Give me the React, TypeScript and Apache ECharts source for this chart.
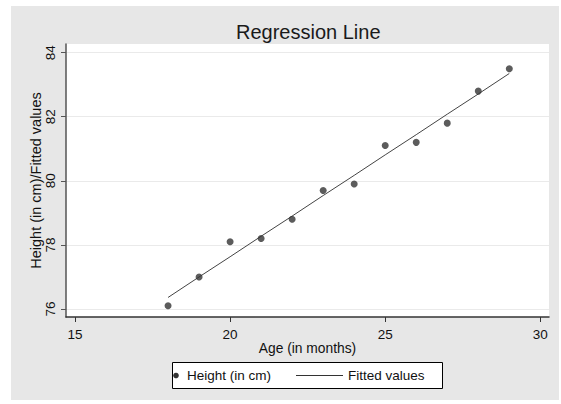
import React, { useEffect, useRef } from "react";
import * as echarts from "echarts";

const ages = [18, 19, 20, 21, 22, 23, 24, 25, 26, 27, 28, 29];
const heights = [76.1, 77.0, 78.1, 78.2, 78.8, 79.7, 79.9, 81.1, 81.2, 81.8, 82.8, 83.5];
const fitted = [76.36, 77.0, 77.63, 78.27, 78.9, 79.54, 80.17, 80.81, 81.44, 82.08, 82.71, 83.35];
const xTicks = [15, 20, 25, 30];
const yTicks = [76, 78, 80, 82, 84];

const FONT = "Liberation Sans, Arial, sans-serif";

export default function App() {
  const ref = useRef<HTMLDivElement>(null);
  useEffect(() => {
    document.body.style.margin = "0";
    const chart = echarts.init(ref.current!, null, { renderer: "svg" });
    chart.setOption({
      animation: false,
      backgroundColor: "#ffffff",
      title: {
        text: "Regression Line",
        left: 231,
        top: 17,
        textStyle: { fontFamily: FONT, fontSize: 20, fontWeight: "normal", color: "#1a1a1a" },
      },
      graphic: [
        { type: "rect", z: -10, shape: { x: 11, y: 6, width: 548, height: 394 }, style: { fill: "#e7e7e7" } },
        { type: "rect", z: -9, shape: { x: 66, y: 44, width: 483, height: 273 }, style: { fill: "#ffffff" } },
        {
          type: "group",
          children: [
            { type: "rect", shape: { x: 172.5, y: 362.5, width: 270, height: 26 }, style: { fill: "#ffffff", stroke: "#000", lineWidth: 1 } },
            { type: "circle", shape: { cx: 176, cy: 375.5, r: 2.8 }, style: { fill: "#333333" } },
            { type: "text", x: 187, y: 375.5, style: { text: "Height (in cm)", fontFamily: FONT, fontSize: 13.5, fill: "#111", verticalAlign: "middle" } },
            { type: "line", shape: { x1: 296, y1: 375.5, x2: 343, y2: 375.5 }, style: { stroke: "#333", lineWidth: 1 } },
            { type: "text", x: 348, y: 375.5, style: { text: "Fitted values", fontFamily: FONT, fontSize: 13.5, fill: "#111", verticalAlign: "middle" } },
          ],
        },
      ],
      grid: { left: 66, top: 44, width: 483, height: 273, containLabel: false },
      xAxis: {
        type: "value",
        min: 14.71,
        max: 30.28,
        name: "Age (in months)",
        nameLocation: "middle",
        nameGap: 24,
        nameMoveOverlap: false,
        nameTextStyle: { fontFamily: FONT, fontSize: 13.8, color: "#111" },
        axisLine: { show: true, lineStyle: { color: "#333", width: 1.5 } },
        axisTick: { show: true, customValues: xTicks, length: 5, lineStyle: { color: "#333" } },
        axisLabel: { customValues: xTicks, fontFamily: FONT, fontSize: 13.5, color: "#111", margin: 10 },
        splitLine: { show: false },
      },
      yAxis: {
        type: "value",
        min: 75.75,
        max: 84.27,
        name: "Height (in cm)/Fitted values",
        nameLocation: "middle",
        nameGap: 23,
        nameMoveOverlap: false,
        nameTextStyle: { fontFamily: FONT, fontSize: 14.5, color: "#111" },
        axisLine: { show: true, lineStyle: { color: "#555", width: 1.5 } },
        axisTick: { show: true, customValues: yTicks, length: 5, lineStyle: { color: "#555" } },
        axisLabel: { customValues: yTicks, rotate: 90, fontFamily: FONT, fontSize: 13.5, color: "#111", margin: 9 },
        splitLine: { show: true, lineStyle: { color: "#eaeaea", width: 1 } },
      },
      series: [
        {
          name: "Height (in cm)",
          type: "scatter",
          data: ages.map((a, i) => [a, heights[i]]),
          symbol: "circle",
          symbolSize: 7,
          itemStyle: { color: "#333333" },
          z: 3,
        },
        {
          name: "Fitted values",
          type: "line",
          data: ages.map((a, i) => [a, fitted[i]]),
          showSymbol: false,
          symbol: "none",
          lineStyle: { color: "#444", width: 1 },
          z: 2,
        },
      ],
    });
    return () => chart.dispose();
  }, []);
  return <div ref={ref} style={{ width: 561, height: 404 }} />;
}
